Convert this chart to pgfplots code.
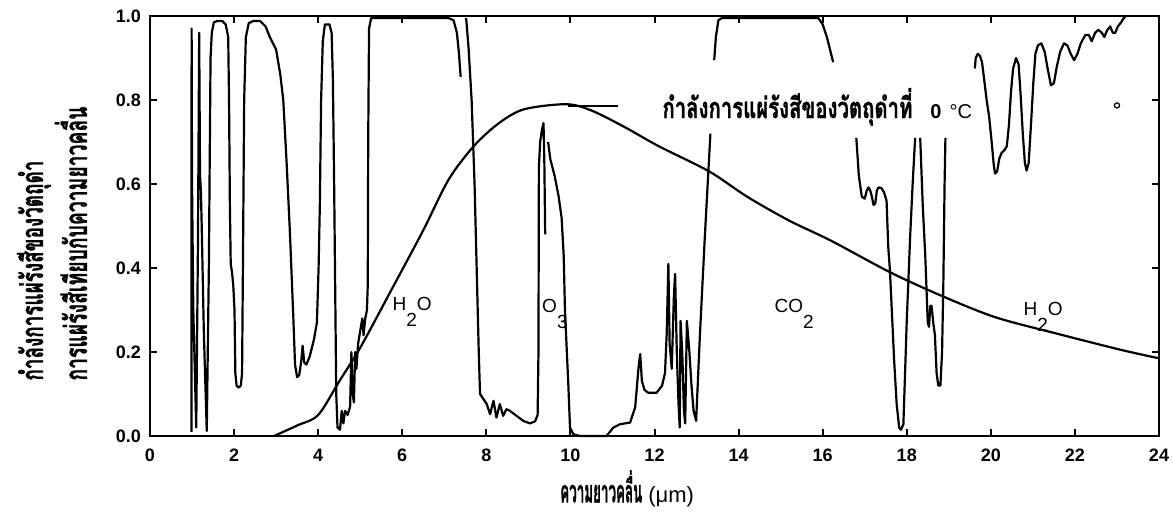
\documentclass[border=0pt]{standalone}
\usepackage{fontspec}
\usepackage{graphicx}
\usepackage{pgfplots}
\pgfplotsset{compat=1.18}
\setmainfont{Liberation Sans}
\setsansfont{Liberation Sans}
\newfontfamily\thai[Script=Thai, BoldFeatures={FakeBold=1.2}]{Loma}
\begin{document}
\begin{tikzpicture}
\useasboundingbox (0,0) rectangle (586.5pt,258pt);
\begin{axis}[
  at={(75pt,40pt)}, anchor=south west,
  scale only axis, width=504.5pt, height=210pt,
  xmin=0, xmax=24, ymin=0, ymax=1,
  clip=false,
  axis line style={line width=1.1pt},
  tick style={line width=1pt, black},
  major tick length=3.5pt,
  xtick={0,2,4,6,8,10,12,14,16,18,20,22,24},
  xticklabels={0,2,4,6,8,10,12,14,16,18,20,22,24},
  ytick={0,0.2,0.4,0.6,0.8,1},
  yticklabels={0.0,0.2,0.4,0.6,0.8,1.0},
  ticklabel style={font=\fontsize{9}{10}\selectfont\bfseries},
  xticklabel style={yshift=-3pt},
  yticklabel style={xshift=-1pt},
  /pgf/number format/assume math mode=true,
]
% transmission spectrum, segment A
\addplot[black, line width=1.1pt, line join=round] coordinates {
(0.985,0.01)(0.99,0.97)(1.0,0.6)(1.03,0.3)(1.10,0.02)(1.14,0.45)(1.17,0.96)(1.19,0.62)(1.21,0.585)(1.23,0.5)(1.28,0.25)(1.35,0.012)
(1.40,0.4)(1.44,0.9)(1.47,0.96)(1.52,0.985)(1.6,0.988)(1.72,0.988)(1.8,0.98)(1.86,0.95)(1.88,0.8)(1.9,0.55)(1.92,0.41)(1.95,0.39)
(1.98,0.36)(2.01,0.3)(2.03,0.15)(2.06,0.12)(2.11,0.115)(2.16,0.12)(2.19,0.15)(2.21,0.4)(2.24,0.8)(2.28,0.95)(2.35,0.983)(2.45,0.988)
(2.62,0.988)(2.75,0.975)(2.85,0.95)(3.0,0.92)(3.1,0.86)(3.17,0.80)(3.25,0.65)(3.33,0.48)(3.41,0.28)(3.45,0.17)(3.5,0.14)(3.55,0.145)
(3.6,0.18)(3.63,0.215)(3.67,0.175)(3.72,0.17)(3.8,0.19)(3.9,0.23)(3.97,0.27)(4.01,0.4)(4.04,0.55)(4.07,0.8)(4.11,0.94)(4.16,0.98)
(4.27,0.98)(4.32,0.96)(4.35,0.85)(4.38,0.6)(4.41,0.3)(4.43,0.1)(4.46,0.02)(4.52,0.015)(4.56,0.06)(4.60,0.03)(4.64,0.06)(4.70,0.05)
(4.76,0.07)(4.79,0.2)(4.82,0.1)(4.85,0.08)(4.88,0.2)(4.91,0.16)(4.95,0.22)(5.0,0.25)(5.05,0.28)(5.08,0.24)(5.12,0.28)(5.16,0.3)
(5.18,0.36)(5.19,0.7)(5.21,0.97)(5.26,0.995)(7.1,0.995)(7.22,0.99)(7.3,0.96)(7.35,0.91)(7.37,0.88)(7.39,0.855)
};
% segment B
\addplot[black, line width=1.1pt, line join=round] coordinates {
(7.52,0.995)(7.58,0.92)(7.65,0.8)(7.72,0.6)(7.77,0.4)(7.82,0.2)(7.85,0.1)(7.93,0.088)(8.01,0.076)(8.09,0.052)(8.17,0.084)(8.24,0.044)
(8.32,0.076)(8.40,0.048)(8.48,0.064)(8.56,0.06)(8.72,0.048)(8.88,0.036)(9.04,0.03)(9.16,0.035)(9.22,0.05)(9.24,0.2)(9.25,0.64)
(9.28,0.70)(9.32,0.728)(9.36,0.745)(9.38,0.65)(9.40,0.48)
};
\addplot[black, line width=1.1pt, line join=round] coordinates {
(9.47,0.70)(9.52,0.66)(9.63,0.617)(9.72,0.57)(9.79,0.52)(9.84,0.43)(9.87,0.30)(9.95,0.123)(9.99,0.02)(10.07,0.004)(10.23,0.0)
(10.86,0.0)(11.02,0.02)(11.18,0.028)(11.42,0.032)(11.54,0.068)(11.62,0.163)(11.66,0.195)(11.70,0.131)(11.76,0.11)(11.85,0.103)
(12.05,0.103)(12.18,0.12)(12.25,0.15)(12.29,0.243)(12.33,0.41)(12.36,0.22)(12.41,0.16)(12.46,0.33)(12.49,0.386)(12.53,0.2)(12.57,0.08)
(12.60,0.02)(12.62,0.274)(12.66,0.2)(12.70,0.06)(12.73,0.03)(12.77,0.274)(12.83,0.2)(12.88,0.12)(12.93,0.06)(12.99,0.036)(13.08,0.24)
(13.2,0.48)(13.33,0.72)
};
% segment C
\addplot[black, line width=1.1pt, line join=round] coordinates {
(13.42,0.895)(13.46,0.95)(13.52,0.99)(13.6,0.995)(15.9,0.995)(16.0,0.98)(16.1,0.95)(16.2,0.91)(16.25,0.89)
};
% segment D
\addplot[black, line width=1.1pt, line join=round] coordinates {
(16.80,0.71)(16.86,0.62)(16.93,0.57)(17.0,0.565)(17.05,0.585)(17.09,0.592)(17.13,0.585)(17.17,0.57)(17.21,0.55)(17.25,0.553)
(17.29,0.585)(17.33,0.592)(17.40,0.59)(17.46,0.58)(17.52,0.56)(17.56,0.45)(17.6,0.394)(17.7,0.18)(17.76,0.076)(17.82,0.02)
(17.86,0.015)(17.92,0.028)(17.96,0.15)(18.0,0.274)(18.08,0.473)(18.14,0.6)(18.2,0.71)
};
% segment E
\addplot[black, line width=1.1pt, line join=round] coordinates {
(18.32,0.71)(18.38,0.55)(18.44,0.43)(18.5,0.27)(18.53,0.26)(18.56,0.31)(18.59,0.31)(18.63,0.27)(18.67,0.24)(18.71,0.15)(18.75,0.12)
(18.8,0.12)(18.84,0.2)(18.87,0.36)(18.9,0.6)(18.92,0.71)
};
% segment F
\addplot[black, line width=1.1pt, line join=round] coordinates {
(19.62,0.875)(19.64,0.9)(19.69,0.91)(19.74,0.905)(19.79,0.89)(19.84,0.85)(19.9,0.8)(19.96,0.76)(20.02,0.7)(20.07,0.645)(20.1,0.625)
(20.15,0.63)(20.2,0.66)(20.26,0.675)(20.32,0.68)(20.38,0.69)(20.43,0.74)(20.48,0.82)(20.53,0.875)(20.6,0.9)(20.66,0.885)(20.71,0.81)
(20.76,0.72)(20.81,0.65)(20.85,0.632)(20.9,0.65)(20.96,0.75)(21.01,0.84)(21.06,0.91)(21.12,0.93)(21.2,0.935)(21.28,0.915)(21.36,0.87)
(21.43,0.835)(21.5,0.84)(21.57,0.88)(21.65,0.915)(21.74,0.935)(21.82,0.93)(21.9,0.91)(21.98,0.895)(22.06,0.91)(22.14,0.935)
(22.25,0.955)(22.33,0.955)(22.4,0.94)(22.48,0.96)(22.56,0.967)(22.64,0.96)(22.7,0.95)(22.76,0.965)(22.84,0.975)(22.9,0.96)
(22.96,0.96)(23.02,0.975)(23.1,0.985)(23.16,0.995)(23.2,0.998)
};
% blackbody curve at 0 C
\addplot[black, line width=1.1pt, smooth] coordinates {
(2.95,0)(3.5,0.025)(4.0,0.05)(4.5,0.13)(5.0,0.21)(5.7,0.34)(6.5,0.49)(7.1,0.61)(7.7,0.69)(8.3,0.745)(8.9,0.778)(9.9,0.79)
(10.5,0.775)(11.3,0.735)(12.1,0.69)(13.3,0.63)(14.2,0.57)(15.2,0.513)(16.2,0.465)(17.6,0.39)(18.8,0.335)(20.1,0.283)
(21.6,0.243)(23.1,0.205)(24,0.185)
};
\addplot[black, line width=1.1pt] coordinates {(9.95,0.785)(11.12,0.785)};
\addplot[only marks, mark=o, mark size=1.3pt, mark options={line width=0.6pt}] coordinates {(23.0,0.787)};
% labels
\node[anchor=base west, inner sep=0] at (axis cs:5.76,0.298) {\fontsize{9.5}{11}\selectfont H\raisebox{-8pt}{2}O};
\node[anchor=base west, inner sep=0] at (axis cs:9.32,0.294) {\fontsize{9.5}{11}\selectfont O\raisebox{-8pt}{3}};
\node[anchor=base west, inner sep=0] at (axis cs:14.85,0.294) {\fontsize{9.5}{11}\selectfont CO\raisebox{-8pt}{2}};
\node[anchor=base west, inner sep=0] at (axis cs:20.77,0.286) {\fontsize{9.5}{11}\selectfont H\raisebox{-8pt}{2}O};
\node[anchor=base west, inner sep=0] at (axis cs:12.18,0.757) {\resizebox{125pt}{15pt}{\thai\bfseries กำลังการแผ่รังสีของวัตถุดำที่}\hspace{9pt}{\bfseries\fontsize{10}{12}\selectfont 0}\hspace{4pt}{\fontsize{10}{12}\selectfont °C}};
\node[anchor=base west, inner sep=0] at (axis cs:9.75,-0.158) {\resizebox{41pt}{16pt}{\thai\bfseries ความยาวคลื่น}\hspace{3pt}{\fontsize{11}{12}\selectfont (μm)}};
\node[rotate=90, anchor=base west, inner sep=0] at (axis cs:-2.545,0.131) {\resizebox{110pt}{13pt}{\thai\bfseries กำลังการแผ่รังสีของวัตถุดำ}};
\node[rotate=90, anchor=base west, inner sep=0] at (axis cs:-1.50,0.131) {\resizebox{137pt}{16pt}{\thai\bfseries การแผ่รังสีเทียบกับความยาวคลื่น}};
\end{axis}
\end{tikzpicture}
\end{document}
